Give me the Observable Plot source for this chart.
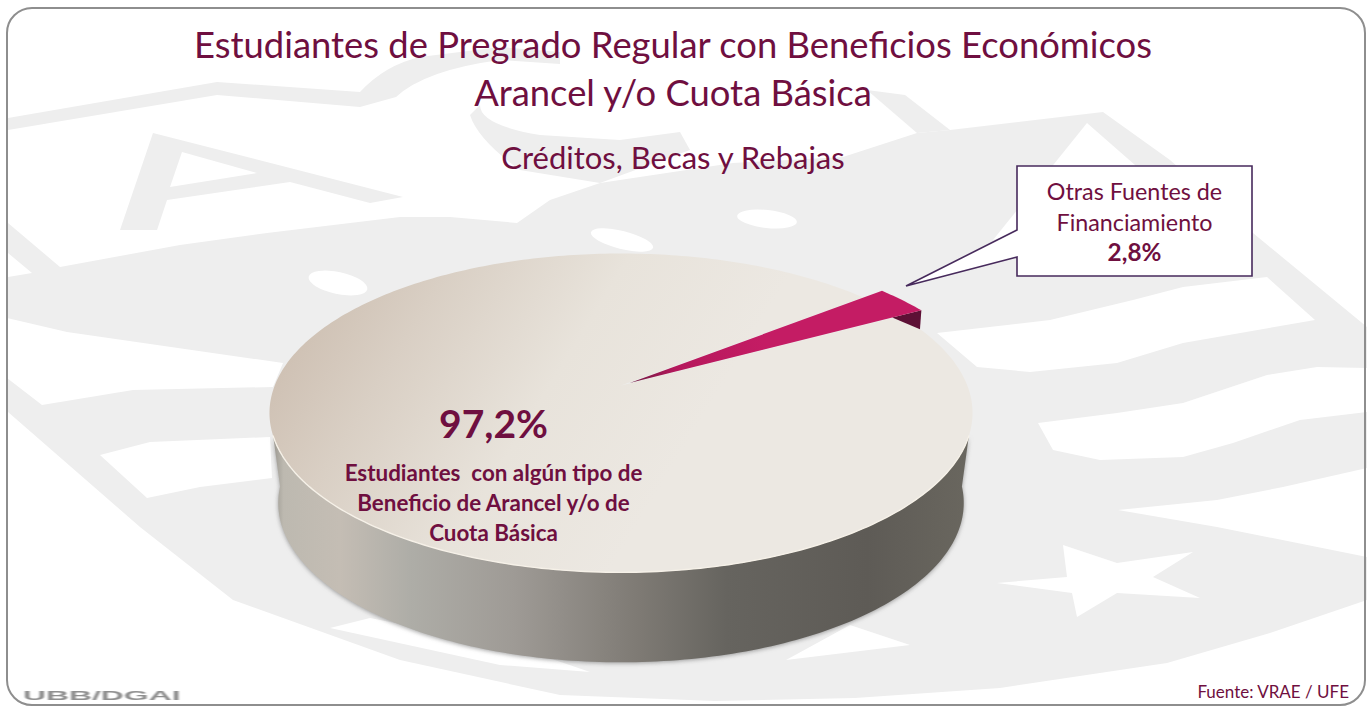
<!DOCTYPE html>
<html lang="es">
<head>
<meta charset="utf-8">
<script src="https://cdn.jsdelivr.net/npm/d3@7"></script>
<script src="https://cdn.jsdelivr.net/npm/@observablehq/plot@0.6"></script>
<style>
html,body{margin:0;padding:0;background:#fff;width:1370px;height:707px;overflow:hidden;font-family:Lato,"Open Sans",sans-serif}
#page{position:relative;width:1370px;height:707px;overflow:hidden}
#wm{position:absolute;left:0;top:0}
#frame{position:absolute;left:6px;top:7px;width:1360px;height:699px;box-sizing:border-box;border:2px solid #8e8e8e;border-radius:26px;pointer-events:none}
.t{position:absolute;left:0;width:1346px;text-align:center;color:#6f0f40;white-space:nowrap;line-height:1}
#chart{position:absolute;left:0;top:0}
#chart svg{background:transparent!important;display:block}
#src{position:absolute;right:21px;top:683px;font-size:17px;color:#6f0f40;line-height:1}
#ubb{position:absolute;left:23px;top:688px;font:bold 13px "Liberation Sans",Arial,sans-serif;color:#8f8f8f;transform-origin:0 0;transform:scale(2.45,1);filter:blur(.5px)}
</style>
</head>
<body>
<div id="page">
<svg id="wm" width="1370" height="707" viewBox="0 0 1370 707">
  <defs>
    <linearGradient id="topFace" gradientUnits="userSpaceOnUse" x1="280" y1="300" x2="640" y2="520">
      <stop offset="0" stop-color="#cbbcae"/><stop offset=".3" stop-color="#d9cfc4"/><stop offset=".65" stop-color="#e8e3db"/><stop offset="1" stop-color="#ece8e2"/>
    </linearGradient>
    <linearGradient id="sideFace" gradientUnits="userSpaceOnUse" x1="269" y1="0" x2="972" y2="0">
      <stop offset="0" stop-color="#8f8c85"/><stop offset=".02" stop-color="#bdb9b0"/><stop offset=".1" stop-color="#c4bdb4"/><stop offset=".2" stop-color="#aeada7"/><stop offset=".35" stop-color="#9e9a95"/><stop offset=".52" stop-color="#7f7b75"/><stop offset=".65" stop-color="#66645f"/><stop offset=".85" stop-color="#5e5b56"/><stop offset="1" stop-color="#6a675f"/>
    </linearGradient>
    <linearGradient id="wedge" gradientUnits="userSpaceOnUse" x1="630" y1="385" x2="760" y2="335">
      <stop offset="0" stop-color="#6e1a40"/><stop offset=".35" stop-color="#b5185c"/><stop offset="1" stop-color="#c41c64"/>
    </linearGradient>
  </defs>
  <g fill="#eeeeee">
    <path d="M8 223L60 267L180 245L267 233L400 217L450 217L517 223L550 200L600 183L733 163L843 157L917 133L950 130L1103 112L1170 160L1253 233L1367 327L1367 600L1270 633L1167 663L1000 688L855 698L715 701L560 695L400 660L233 600L140 527L8 412Z"/>
    <path d="M8 118L217 82L360 92Q385 65 420 57L500 47L560 52L560 64L500 60Q425 70 396 97L360 107L217 95L8 130Z"/>
    <path fill-rule="evenodd" d="M153 133L403 197L370 203L290 182L167 200L157 230L120 230ZM182 152L170 187L257 173Z"/>
    <path d="M480 105Q480 125 540 135L620 140L680 132L690 150L600 183L520 170Q478 140 470 115Z"/>
    <path d="M867 90L917 133L950 130L905 95Z"/>
  </g>
  <g fill="#ffffff">
    <path d="M937 333L1050 320L1133 300L1183 287L1267 277L1315 320L1183 343L1117 363L1030 372L977 367Z"/>
    <path d="M1038 423L1117 413L1183 403L1267 375L1317 367L1367 368L1367 412L1300 420L1233 443L1183 457L1100 460L1053 450Z"/>
    <path d="M1118 510L1217 500L1283 487L1367 468L1367 557L1217 527Z"/>
    <path d="M1063 545L1117 563L1193 552L1153 577L1200 598L1117 593L1077 617L1072 593L997 583L1067 577Z"/>
    <path d="M7 318L67 332L283 363L273 387L133 390L42 405L7 378Z"/>
    <path d="M100 455L150 442L270 437L272 478L200 487L147 498Z"/>
    <path d="M8 253L32 273L8 277Z"/>
    <path d="M1087 123L1135 165L1135 200L993 240Z"/>
    <path d="M330 628L500 665L590 672L520 648L370 618Z"/>
    <path d="M786 660L910 645L850 625Z"/>
    <ellipse cx="338" cy="283" rx="30" ry="11" transform="rotate(12 338 283)"/>
    <ellipse cx="767" cy="219" rx="30" ry="9" transform="rotate(6 767 219)"/>
    <ellipse cx="622" cy="240" rx="32" ry="9" transform="rotate(14 622 240)"/>
  </g>
  <path d="M1017 230L906 286L1017 257L1017 276L1252 276L1252 166L1017 166Z" fill="#ffffff" stroke="#472a5c" stroke-width="1.6" stroke-linejoin="miter"/>
</svg>
<div id="chart"></div>
<div class="t" style="top:26px;font-size:36.4px">Estudiantes de Pregrado Regular con Beneficios Económicos</div>
<div class="t" style="top:74px;font-size:36.4px">Arancel y/o Cuota Básica</div>
<div class="t" style="top:142px;font-size:31px">Créditos, Becas y Rebajas</div>
<div id="src">Fuente: VRAE / UFE</div>
<div id="ubb">UBB/DGAI</div>
<div id="frame"></div>
</div>
<script>
// Data
const categories = ["Otras Fuentes de Financiamiento", "Estudiantes con algún tipo de Beneficio"];
const shares = [2.8, 97.2];
const bigLabel = "97,2%";
const bigLines = ["Estudiantes  con algún tipo de", "Beneficio de Arancel y/o de", "Cuota Básica"];
const calloutLines = ["Otras Fuentes de", "Financiamiento"];
const calloutValue = "2,8%";

// Perspective view of the disk; results are in the units of the x and y scales
const k = -0.172;
const deg = Math.PI / 180;
function project(u, v) {
  const d = 1 + k * v;
  return {x: (u / d) * 0.9852, y: (-27.5 + 154.7 * v / d) / 159.5};
}
const startAngle = -39.2 * deg;
const arcs = d3.pie().sort(null).startAngle(startAngle).endAngle(startAngle + 2 * Math.PI)(shares);
const depth = 90 / 159.5;
const wallDrop = 19 / 159.5;
const explode = 0.03, lift = 1.055;
const baseNarrow = 0.975;

function rim(a0, a1, r = 1, ox = 0, oy = 0) {
  const n = Math.max(2, Math.ceil(Math.abs(a1 - a0) / (1 * deg)));
  return d3.range(n + 1).map(i => {
    const a = a0 + (a1 - a0) * i / n;
    return project(ox + r * Math.cos(a), oy + r * Math.sin(a));
  });
}
const [small, big] = arcs;
const mid = (small.startAngle + small.endAngle) / 2;
const ox = explode * Math.cos(mid), oy = explode * Math.sin(mid);

const bigFace = [project(0, 0), ...rim(big.startAngle, big.endAngle)];
const smallRim = rim(small.startAngle, small.endAngle, lift, ox, oy);
const apex = project(ox, oy);
const smallFace = [apex, ...smallRim];

const edge = 18 * deg;
const front = rim(edge, 180 * deg - edge);
const base = rim(180 * deg - 4 * deg, 4 * deg).map(p => ({x: p.x * baseNarrow, y: p.y + depth}));
const side = [...front, ...base];

const corner = smallRim[smallRim.length - 1];
const t = 0.9;
const wall = [
  {x: apex.x + (corner.x - apex.x) * t, y: apex.y + (corner.y - apex.y) * t},
  corner,
  {x: corner.x - 0.004, y: corner.y + wallDrop}
];

const wine = "#6f0f40";
const font = "Lato, 'Open Sans', sans-serif";
const labelAt = (text, dx, dy, size, weight) =>
  Plot.text([text], {text: d => d, frameAnchor: "top-left", textAnchor: "middle", lineAnchor: "bottom", dx, dy, fontSize: size, fontWeight: weight, fontFamily: font, fill: wine});

const chart = Plot.plot({
  width: 1370, height: 707,
  marginTop: 0, marginRight: 0, marginBottom: 0, marginLeft: 0,
  style: {background: "transparent"},
  x: {domain: [-1, 1], range: [269, 972], axis: null},
  y: {domain: [-1, 1], range: [253, 572], axis: null},
  marks: [
    Plot.line(side, {x: "x", y: "y", fill: "url(#sideFace)", stroke: "none"}),
    Plot.line(bigFace, {x: "x", y: "y", fill: "url(#topFace)", stroke: "none"}),
    Plot.line(front, {x: "x", y: "y", stroke: "#f6f1e8", strokeWidth: 1.4}),
    Plot.line(wall, {x: "x", y: "y", fill: "#5d1035", stroke: "none"}),
    Plot.line(smallFace, {x: "x", y: "y", fill: "url(#wedge)", stroke: "none"}),
    labelAt(bigLabel, 493, 437, 39, 700),
    ...bigLines.map((s, i) => labelAt(s, 493, 480 + i * 30, 22.4, 700)),
    ...calloutLines.map((s, i) => labelAt(s, 1134, 199 + i * 31, 23.3, 400)),
    labelAt(calloutValue, 1134, 260, 24.3, 700)
  ]
});
document.getElementById("chart").appendChild(chart);
const sideGroup = chart.querySelector('g[aria-label="line"]');
if (sideGroup) sideGroup.style.filter = "drop-shadow(0 1px 2px rgba(90,90,90,.55))";
</script>
</body>
</html>
